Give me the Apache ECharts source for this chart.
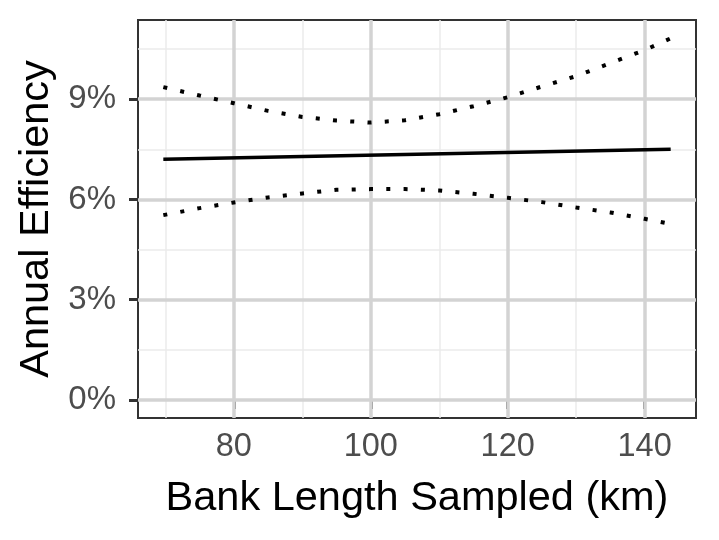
<!DOCTYPE html>
<html lang="en">
<head>
    <meta charset="UTF-8">
    <title>Annual Efficiency vs Bank Length Sampled</title>
    <script src="https://cdn.jsdelivr.net/npm/echarts@6/dist/echarts.min.js"></script>
    <style>
        html, body { margin: 0; padding: 0; background: #fff; }
        #chart { width: 719px; height: 540px; }
    </style>
</head>
<body>
<div id="chart"></div>
<script>
    // values (efficiency in %)
    var bankLength = [69.7, 75, 80, 85, 90, 95, 100, 105, 110, 115, 120, 125, 130, 135, 140, 143.8];
    var upperBand = [9.36, 9.11, 8.88, 8.65, 8.47, 8.36, 8.30, 8.37, 8.55, 8.79, 9.06, 9.38, 9.69, 10.08, 10.47, 10.82];
    var lowerBand = [5.53, 5.74, 5.91, 6.06, 6.18, 6.29, 6.31, 6.31, 6.27, 6.17, 6.05, 5.92, 5.76, 5.61, 5.42, 5.27];
    var fitX = [69.7, 143.8];
    var fitY = [7.20, 7.50];

    var xTicks = [80, 100, 120, 140];
    var xMinor = [70, 90, 110, 130];
    var yTicks = [0, 3, 6, 9];
    var yMinor = [1.5, 4.5, 7.5, 10.5];

    var FONT = 'Liberation Sans';

    function pairs(xs, ys) {
        var out = [];
        for (var i = 0; i < xs.length; i++) out.push([xs[i], ys[i]]);
        return out;
    }

    // gridlines drawn as mark lines (axis min is not a multiple of the tick step)
    var gridLines = [];
    xMinor.forEach(function (v) {
        gridLines.push({xAxis: v, lineStyle: {color: '#ebebeb', width: 1.5, type: 'solid'}});
    });
    yMinor.forEach(function (v) {
        gridLines.push({yAxis: v, lineStyle: {color: '#ebebeb', width: 1.5, type: 'solid'}});
    });
    xTicks.forEach(function (v) {
        gridLines.push({xAxis: v, lineStyle: {color: '#d3d3d3', width: 3.5, type: 'solid'}});
    });
    yTicks.forEach(function (v) {
        gridLines.push({yAxis: v, lineStyle: {color: '#d3d3d3', width: 3.5, type: 'solid'}});
    });

    var chart = echarts.init(document.getElementById('chart'));
    chart.setOption({
        animation: false,
        backgroundColor: '#fff',
        grid: {
            left: 138, right: 23, top: 20, bottom: 122,
            show: true, borderColor: '#333', borderWidth: 2, backgroundColor: 'transparent'
        },
        xAxis: {
            type: 'value', min: 66, max: 147.5,
            name: 'Bank Length Sampled (km)', nameLocation: 'middle', nameGap: 60,
            nameTextStyle: {fontFamily: FONT, fontSize: 41.5, color: '#000'},
            axisLine: {show: false},
            splitLine: {show: false},
            axisTick: {show: true, customValues: xTicks, length: 9, lineStyle: {color: '#333', width: 3}},
            axisLabel: {
                customValues: xTicks, margin: 13, fontFamily: FONT, fontSize: 32.5, color: '#4d4d4d'
            }
        },
        yAxis: {
            type: 'value', min: -0.54, max: 11.37,
            name: 'Annual Efficiency', nameLocation: 'middle', nameGap: 78, nameRotate: 90,
            nameTextStyle: {fontFamily: FONT, fontSize: 41.5, color: '#000'},
            axisLine: {show: false},
            splitLine: {show: false},
            axisTick: {show: true, customValues: yTicks, length: 9, lineStyle: {color: '#333', width: 3}},
            axisLabel: {
                customValues: yTicks, margin: 22, fontFamily: FONT, fontSize: 33, color: '#4d4d4d',
                formatter: function (v) { return v + '%'; }
            }
        },
        series: [
            {
                name: 'grid', type: 'line', data: [], silent: true, z: 1,
                markLine: {silent: true, z: 1, symbol: 'none', label: {show: false}, data: gridLines}
            },
            {
                name: 'upper', type: 'line', data: pairs(bankLength, upperBand),
                showSymbol: false, z: 10,
                lineStyle: {color: '#000', width: 4, type: [4, 13.3], cap: 'butt'}
            },
            {
                name: 'lower', type: 'line', data: pairs(bankLength, lowerBand),
                showSymbol: false, z: 10,
                lineStyle: {color: '#000', width: 4, type: [4, 13.3], cap: 'butt'}
            },
            {
                name: 'fit', type: 'line', data: pairs(fitX, fitY),
                showSymbol: false, z: 10,
                lineStyle: {color: '#000', width: 3.5, type: 'solid'}
            }
        ]
    });
</script>
</body>
</html>
